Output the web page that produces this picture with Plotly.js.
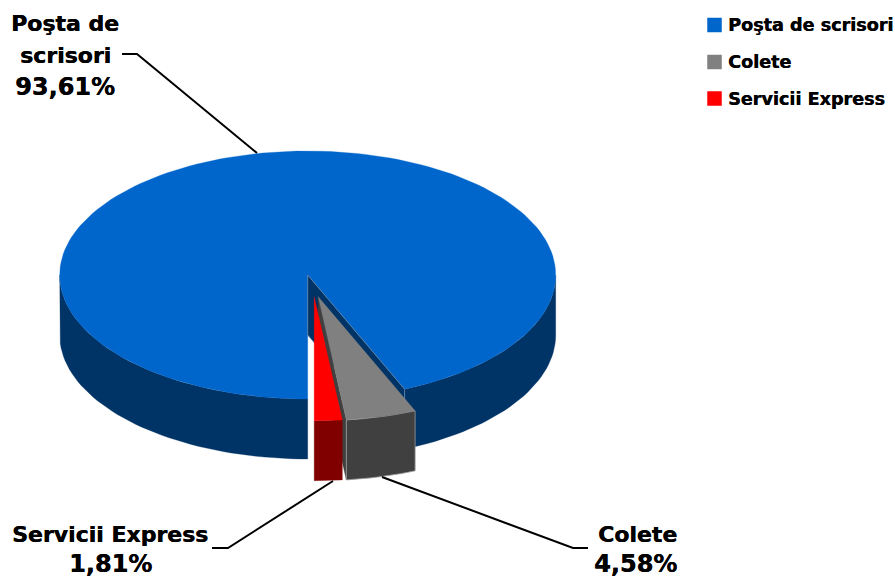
<!DOCTYPE html>
<html><head><meta charset="utf-8">
<script src="https://cdn.plot.ly/plotly-3.0.1.min.js"></script>
<style>html,body{margin:0;padding:0;background:#fff;}</style></head>
<body><div id="chart" style="width:895px;height:577px"></div>
<script>
const categories = ["Poşta de scrisori", "Colete", "Servicii Express"];
const shares = [93.61, 4.58, 1.81];
const topColors = ["#0066CC", "#808080", "#FF0000"];
const sideColors = ["#003366", "#404040", "#800000"];

// Projection of the tilted pie, in the plot's own units
const cx = 307.7, cy = 275, rx = 248, ry = 124, depth = 60;
const startAngle = 180;
const explode = [[0, 0], [10.5, 21.7], [6.5, 21.7]];
const FONT = '"DejaVu Sans", sans-serif';

const rad = d => d * Math.PI / 180;
const rim = (a, o, dz) => [cx + o[0] + rx * Math.sin(rad(a)), cy + o[1] - ry * Math.cos(rad(a)) + dz];
const arc = (a0, a1, o, dz) => {
  const pts = [], n = Math.max(2, Math.ceil(Math.abs(a1 - a0) / 2));
  for (let i = 0; i <= n; i++) pts.push(rim(a0 + (a1 - a0) * i / n, o, dz));
  return pts;
};
const poly = (pts, fill, edge) => ({
  type: "scatter", mode: "lines", x: pts.map(p => p[0]).concat(pts[0][0]), y: pts.map(p => p[1]).concat(pts[0][1]),
  fill: "toself", fillcolor: fill, line: {color: edge || fill, width: edge ? 0.8 : 0.3},
  hoverinfo: "skip", showlegend: false
});

let angle = startAngle;
const spans = shares.map(v => { const s = [angle, angle + v * 3.6]; angle = s[1]; return s; });
const apex = (o, dz) => [cx + o[0], cy + o[1] + dz];
const wallFace = (a, o, edge, col) => poly([apex(o, 0), rim(a, o, 0), rim(a, o, depth), apex(o, depth)], col, edge);
const outerFace = (a0, a1, o, col, edge) => poly(arc(a0, a1, o, 0).concat(arc(a1, a0, o, depth)), col, edge);
const topFace = (s, o, col) => poly([apex(o, 0)].concat(arc(s[0], s[1], o, 0)), col);

const spanB = spans[0], spanG = spans[1], spanR = spans[2];
const traces = [
  outerFace(spanB[0], 270, explode[0], sideColors[0]),
  outerFace(450, spanB[1], explode[0], sideColors[0]),
  topFace(spanB, explode[0], topColors[0]),
  wallFace(spanB[1], explode[0], "#5f86ad", sideColors[0]),
  wallFace(spanG[1], explode[1], null, sideColors[1]),
  outerFace(spanG[0], spanG[1], explode[1], sideColors[1], "#9a9a9a"),
  topFace(spanG, explode[1], topColors[1]),
  outerFace(spanR[0], spanR[1], explode[2], sideColors[2]),
  topFace(spanR, explode[2], topColors[2]),
];

// Leader lines
const leaders = [
  [[122, 137, 257], [54, 54, 153]],
  [[588, 573, 382], [548, 548, 477]],
  [[212, 228, 333], [548, 548, 481]],
];
leaders.forEach(l => traces.push({type: "scatter", mode: "lines", x: l[0], y: l[1],
  line: {color: "#000", width: 2}, hoverinfo: "skip", showlegend: false}));

// Legend swatches
const legendX = 714.5, legendTextX = 727, legendY = [25, 62, 98.5];
traces.push({type: "scatter", mode: "markers", x: categories.map(() => legendX), y: legendY,
  marker: {symbol: "square", size: 14.5, color: topColors, line: {width: 0}},
  hoverinfo: "skip", showlegend: false});

const fmt = v => v.toFixed(2).replace(".", ",") + "%";
const ann = (text, x, y, size, anchor) => ({text: "<b>" + text + "</b>", x, y, xref: "x", yref: "y", xanchor: anchor, yanchor: "middle",
  showarrow: false, borderpad: 0, font: {family: FONT, size, color: "#000", shadow: "0.4px 0 0 #000"}});
const annotations = [
  ann("Poşta de", 65, 23, 22, "center"),
  ann("scrisori", 65, 55, 22, "center"),
  ann(fmt(shares[0]), 65, 87, 24, "center"),
  ann(categories[2], 110, 534, 22, "center"),
  ann(fmt(shares[2]), 110, 564, 24, "center"),
  ann(categories[1], 678, 534, 22, "right"),
  ann(fmt(shares[1]), 678, 564, 24, "right"),
].concat(categories.map((c, i) => ann(c, legendTextX, legendY[i], 17.6, "left")));

Plotly.newPlot("chart", traces, {
  width: 895, height: 577, margin: {l: 0, r: 0, t: 0, b: 0},
  paper_bgcolor: "#fff", plot_bgcolor: "#fff", showlegend: false,
  xaxis: {range: [0, 895], visible: false, fixedrange: true},
  yaxis: {range: [577, 0], visible: false, fixedrange: true},
  annotations
}, {displayModeBar: false, staticPlot: true});
</script></body></html>
